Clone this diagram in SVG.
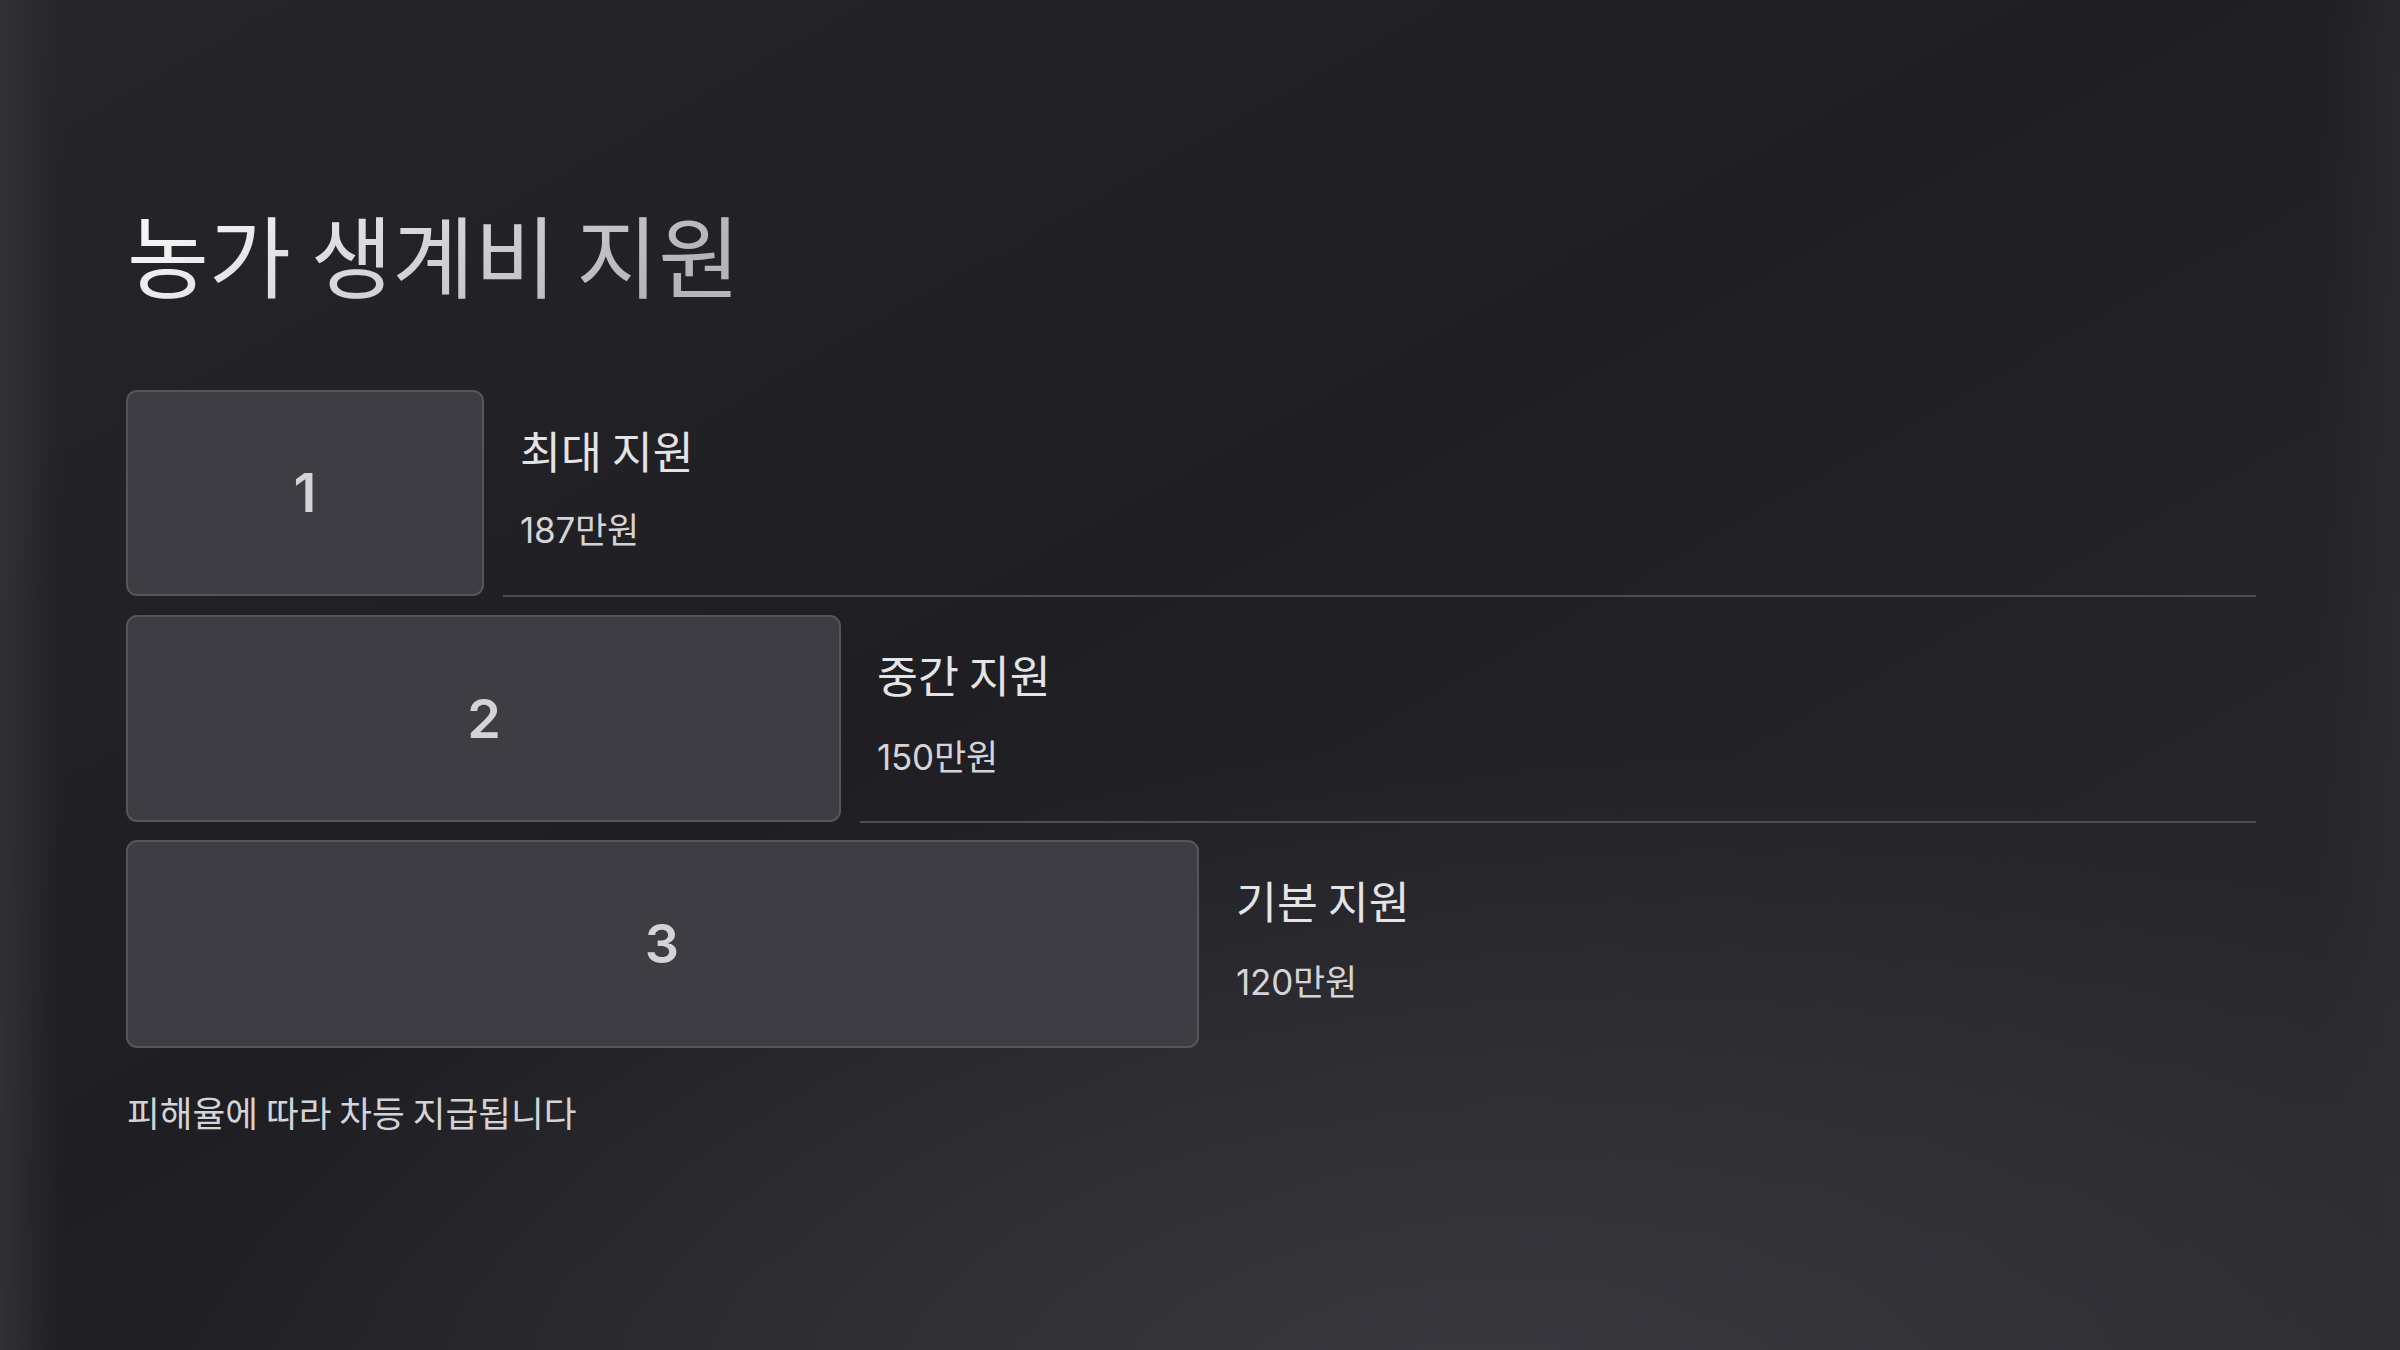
<svg xmlns="http://www.w3.org/2000/svg" width="2400" height="1350" viewBox="0 0 2400 1350">
  <defs>
    <linearGradient id="bg" x1="0" y1="0" x2="1" y2="1">
      <stop offset="0" stop-color="#26262a"/>
      <stop offset="0.45" stop-color="#1f1f23"/>
      <stop offset="1" stop-color="#2a2a2f"/>
    </linearGradient>
    <radialGradient id="glow" cx="0.62" cy="1.05" r="0.55" gradientTransform="translate(0.62 1.05) scale(1 0.9) translate(-0.62 -1.05)">
      <stop offset="0" stop-color="#3a3a40" stop-opacity="0.95"/>
      <stop offset="1" stop-color="#3a3a40" stop-opacity="0"/>
    </radialGradient>
    <linearGradient id="leftEdge" x1="0" y1="0" x2="1" y2="0">
      <stop offset="0" stop-color="#333337" stop-opacity="0.9"/>
      <stop offset="1" stop-color="#333337" stop-opacity="0"/>
    </linearGradient>
    <linearGradient id="rightEdge" x1="1" y1="0" x2="0" y2="0">
      <stop offset="0" stop-color="#2e2e33" stop-opacity="0.6"/>
      <stop offset="1" stop-color="#2e2e33" stop-opacity="0"/>
    </linearGradient>
    <linearGradient id="titleGrad" x1="0" y1="0" x2="1" y2="0.3">
      <stop offset="0" stop-color="#ffffff"/>
      <stop offset="1" stop-color="#b4b4ba"/>
    </linearGradient>
    <style>
      .box { fill: #3d3d43; stroke: #55555b; stroke-width: 2; }
      .num { font-family: "Inter", "Noto Sans CJK KR", sans-serif; font-size: 54px; font-weight: 600; fill: #d4d4d8; text-anchor: middle; }
      .label { font-family: "Noto Sans CJK KR", sans-serif; font-size: 44.5px; fill: #e4e4e7; }
      .value { font-family: "Inter", "Noto Sans CJK KR", sans-serif; font-size: 35px; fill: #d4d4d8; letter-spacing: -0.2px; }
      .sep { stroke: #4d4d53; stroke-width: 2; }
      .title { font-family: "Noto Sans CJK KR", sans-serif; font-size: 89px; fill: url(#titleGrad); }
      .foot { font-family: "Noto Sans CJK KR", sans-serif; font-size: 35.6px; fill: #d4d4d8; }
    </style>
  </defs>
  <rect width="2400" height="1350" fill="url(#bg)"/>
  <rect width="2400" height="1350" fill="url(#glow)"/>
  <rect width="60" height="1350" fill="url(#leftEdge)"/>
  <rect x="2320" width="80" height="1350" fill="url(#rightEdge)"/>

  <text class="title" x="127" y="291">농가 생계비 지원</text>

  <g id="connectors">
    <line class="sep" x1="503" y1="596" x2="2256" y2="596"/>
    <line class="sep" x1="860" y1="822" x2="2256" y2="822"/>
  </g>

  <g id="node1">
    <rect class="box" x="127" y="391" width="356" height="204" rx="10"/>
    <text class="num" x="305" y="512">1</text>
    <text class="label" x="520" y="469">최대 지원</text>
    <text class="value" x="520" y="543">187만원</text>
  </g>
  <g id="node2">
    <rect class="box" x="127" y="616" width="713" height="205" rx="10"/>
    <text class="num" x="484" y="738">2</text>
    <text class="label" x="877" y="693">중간 지원</text>
    <text class="value" x="877" y="770">150만원</text>
  </g>
  <g id="node3">
    <rect class="box" x="127" y="841" width="1071" height="206" rx="10"/>
    <text class="num" x="662" y="963">3</text>
    <text class="label" x="1236" y="919">기본 지원</text>
    <text class="value" x="1236" y="995">120만원</text>
  </g>

  <text id="footer" class="foot" x="127" y="1127">피해율에 따라 차등 지급됩니다</text>
</svg>
